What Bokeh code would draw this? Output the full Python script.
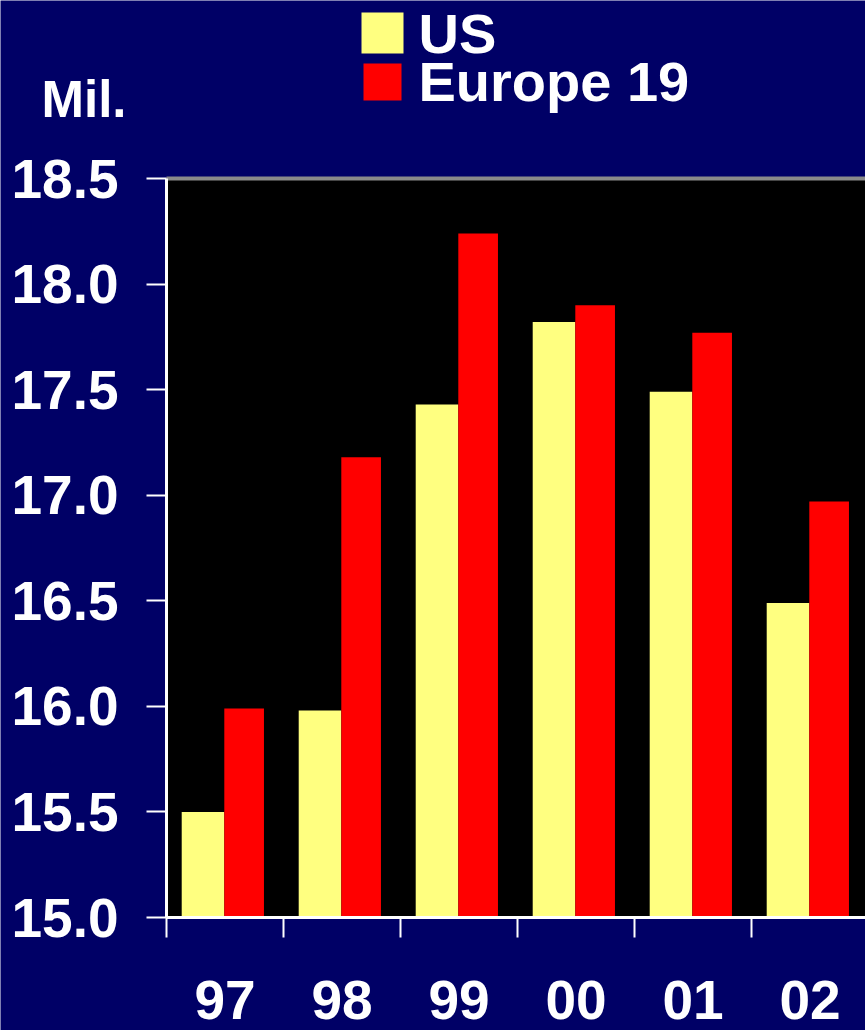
from bokeh.plotting import figure
from bokeh.models import (Range1d, FixedTicker, NumeralTickFormatter,
                          CustomJSTickFormatter, ColumnDataSource, BoxAnnotation)
from bokeh.core.properties import value
from bokeh.embed import file_html
from bokeh.resources import INLINE

# Annual sales, millions of units
years = ["97", "98", "99", "00", "01", "02"]
us = [15.50, 15.98, 17.43, 17.82, 17.49, 16.49]
europe = [15.99, 17.18, 18.24, 17.90, 17.77, 16.97]
y_ticks = [15.0, 15.5, 16.0, 16.5, 17.0, 17.5, 18.0, 18.5]
series_names = ["US", "Europe 19"]
unit_label = "Mil."

NAVY = "#000066"
YELLOW = "#FFFF80"
RED = "#FF0000"
GREY = "#8a8a8a"
FONT = "Liberation Sans"

# page geometry (pixels)
W, H = 865, 1030
PLOT_LEFT, PLOT_TOP, PLOT_BOTTOM = 166, 178, 917
GROUP_PX = 117.0
y0, y1 = y_ticks[0], y_ticks[-1]
PX_PER_UNIT = (PLOT_BOTTOM - PLOT_TOP) / (y1 - y0)


def dx(px):
    """horizontal page pixel -> x data value (one unit per year group)"""
    return (px - PLOT_LEFT) / GROUP_PX


def dy(py):
    """vertical page pixel -> y data value"""
    return y0 + (PLOT_BOTTOM - py) / PX_PER_UNIT


x_start, x_end = dx(0), dx(W)

# The frame covers the whole page; both axes are pinned to the edges of the
# black panel, so the caption and legend live in data space next to the bars.
p = figure(width=W, height=H, output_backend="svg", toolbar_location=None,
           x_range=Range1d(x_start, x_end), y_range=Range1d(dy(H), dy(0)),
           min_border=0)
p.background_fill_color = NAVY
p.border_fill_color = NAVY
p.outline_line_color = None
p.grid.visible = False

# black plotting panel with a grey rule along its top
p.add_layout(BoxAnnotation(left=0, right=x_end, bottom=y0, top=y1,
                           fill_color="black", fill_alpha=1.0, line_color=None,
                           level="underlay"))
p.segment(x0=[0], x1=[x_end], y0=[y1], y1=[y1], line_color=GREY, line_width=4)

idx = list(range(len(years)))
src = ColumnDataSource(dict(
    us_l=[i + 0.13 for i in idx], us_r=[i + 0.494 for i in idx],
    eu_l=[i + 0.494 for i in idx], eu_r=[i + 0.833 for i in idx],
    us=us, eu=europe, base=[y0] * len(idx)))
p.quad(left="us_l", right="us_r", top="us", bottom="base", source=src,
       fill_color=YELLOW, line_color=None)
p.quad(left="eu_l", right="eu_r", top="eu", bottom="base", source=src,
       fill_color=RED, line_color=None)

# y axis pinned to the left edge of the panel
ya = p.yaxis[0]
ya.fixed_location = 0
ya.bounds = (y0, y1)
ya.ticker = FixedTicker(ticks=y_ticks)
ya.formatter = NumeralTickFormatter(format="0.0")
ya.axis_line_color = "white"
ya.axis_line_width = 3
ya.major_tick_line_color = "white"
ya.major_tick_line_width = 2
ya.major_tick_out = 20
ya.major_tick_in = 0
ya.minor_tick_line_color = None
ya.major_label_standoff = 28
ya.major_label_text_color = "white"
ya.major_label_text_font = FONT
ya.major_label_text_font_style = "bold"
ya.major_label_text_font_size = "55px"

# x axis pinned to the panel floor: labels at group centres, ticks at
# group boundaries
xa = p.xaxis[0]
xa.fixed_location = y0
xa.bounds = (0, x_end)
xa.ticker = FixedTicker(ticks=[i + 0.5 for i in idx], minor_ticks=idx)
xa.formatter = CustomJSTickFormatter(args=dict(labels=years),
                                     code="return labels[Math.floor(tick)]")
xa.axis_line_color = "white"
xa.axis_line_width = 3
xa.major_tick_line_color = None
xa.major_tick_out = 0
xa.major_tick_in = 0
xa.minor_tick_line_color = "white"
xa.minor_tick_line_width = 2
xa.minor_tick_out = 20
xa.minor_tick_in = 0
xa.major_label_standoff = 43
xa.major_label_text_color = "white"
xa.major_label_text_font = FONT
xa.major_label_text_font_style = "bold"
xa.major_label_text_font_size = "55px"

# unit caption
p.text(x=[dx(41)], y=[dy(99)], text=[unit_label], text_color="white",
       text_font=value(FONT), text_font_style="bold", text_font_size="51px",
       text_baseline="alphabetic")

# legend swatches and names
swatches = ColumnDataSource(dict(
    left=[dx(361), dx(363)], right=[dx(403), dx(401)],
    top=[dy(12), dy(63)], bottom=[dy(53), dy(100)], color=[YELLOW, RED]))
p.quad(left="left", right="right", top="top", bottom="bottom",
       fill_color="color", line_color=None, source=swatches)
p.text(x=[dx(418), dx(418)], y=[dy(33), dy(81)], text=series_names,
       text_color="white", text_font=value(FONT), text_font_style="bold",
       text_font_size="56px", text_baseline="alphabetic")

open("out.html", "w").write(file_html(p, INLINE))
